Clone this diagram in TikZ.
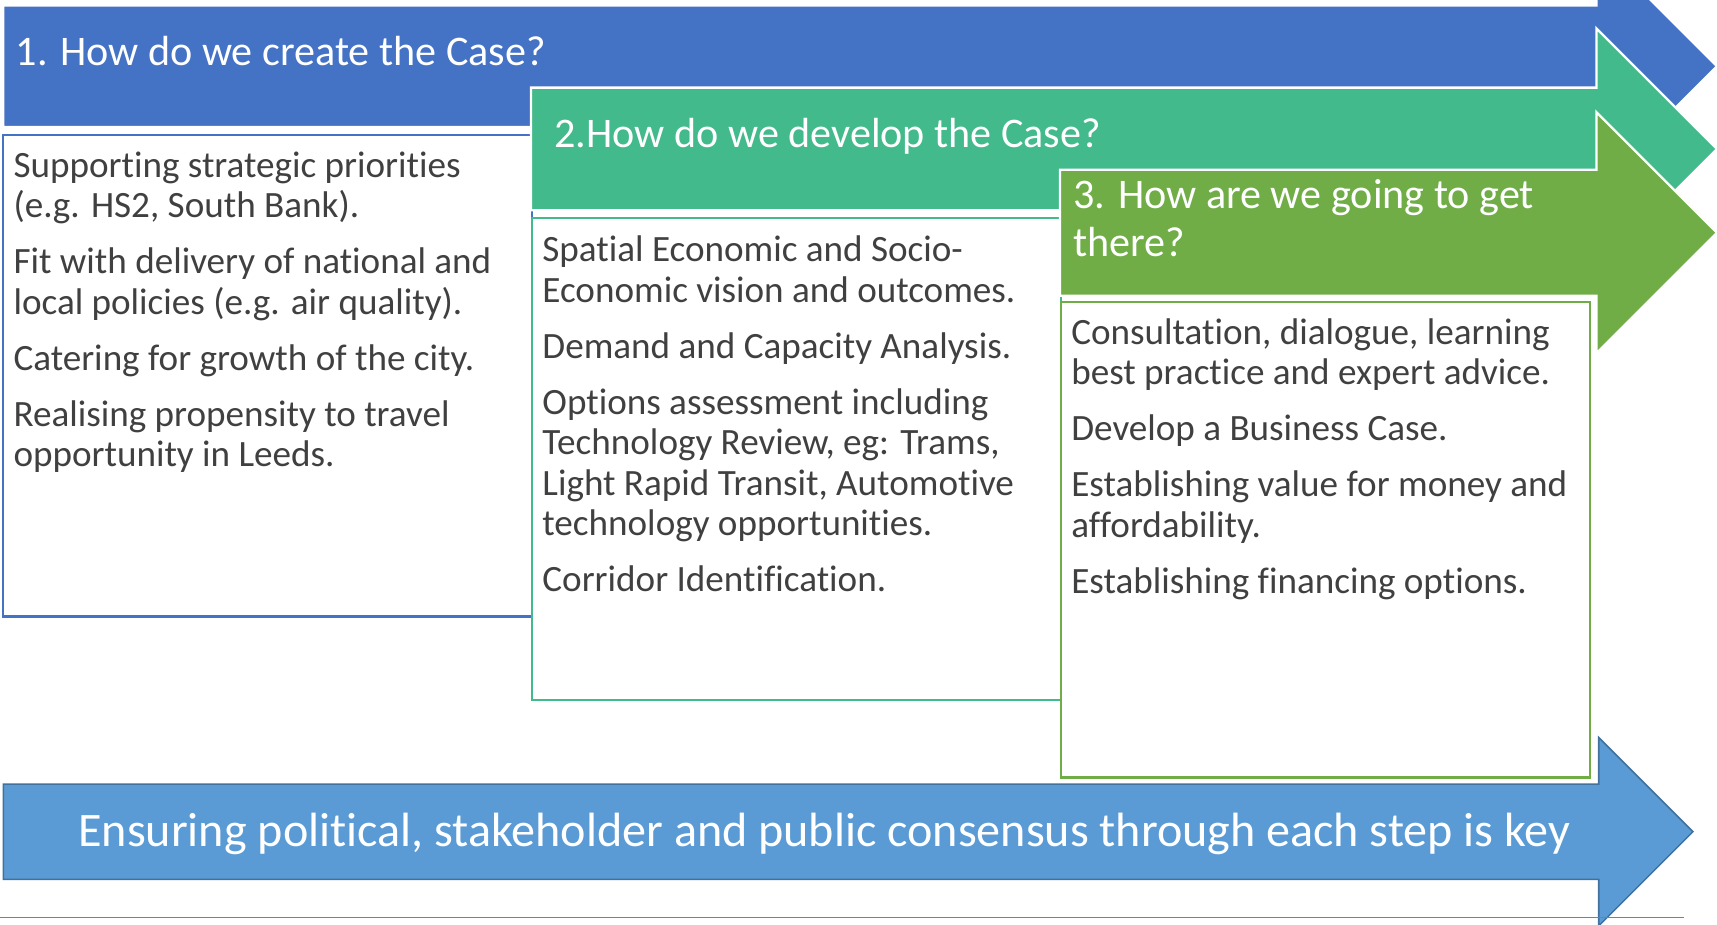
\documentclass[tikz,border=0pt]{standalone}
\usepackage{fontspec}
\setmainfont{Carlito}[Ligatures=NoCommon]
\usepackage{tikz}
\usetikzlibrary{positioning}
\definecolor{caseblue}{HTML}{4472C4}
\definecolor{caseteal}{HTML}{43BA8B}
\definecolor{casegreen}{HTML}{70AD47}
\definecolor{keyblue}{HTML}{5B9BD5}
\definecolor{keyedge}{HTML}{41719C}
\definecolor{bodygray}{HTML}{404040}
\def\steparrow[#1](#2:#3:#4:#5:#6)% Syntax: [draw options] (left:top:bottom:neck x:tip x)
    { \draw[#1] (#2,#3) -- (#5,#3) -- (#5,{(#3+#4)/2-(#6-#5)}) -- (#6,{(#3+#4)/2})
        -- (#5,{(#3+#4)/2+(#6-#5)}) -- (#5,#4) -- (#2,#4) -- cycle; }

\begin{document}
\begin{tikzpicture}[x=0.02cm,y=-0.02cm,
    stepbox/.style={draw=#1, line width=1.2pt, fill=white, minimum width=9.66cm,
      minimum height=8.8cm, anchor=north west, inner sep=0pt},
    headtext/.style={text=white, font=\fontsize{21.9}{24.5}\selectfont, align=left, inner sep=0pt},
    bodytext/.style={text=bodygray, font=\fontsize{19.3}{21.1}\selectfont, align=left, inner sep=0pt}]
   \useasboundingbox (0,0) rectangle (1568,844);

   % step 1
   \steparrow[fill=caseblue, draw=white, line width=1.2pt](3:5:116:1458:1568)
   \node[headtext, anchor=west] (h1) at (14,47) {1. How do we create the Case?};
   \node[stepbox=caseblue] (b1) at (2,122) {};
   \node[bodytext, below right=0.32cm and 0.2cm of b1.north west] (t1) {Supporting strategic priorities\\
     (e.g. HS2, South Bank).\\[8pt]
     Fit with delivery of national and\\
     local policies (e.g. air quality).\\[8pt]
     Catering for growth of the city.\\[8pt]
     Realising propensity to travel\\
     opportunity in Leeds.};

   % step 2
   \steparrow[fill=caseteal, draw=white, line width=1.2pt](485:80:192:1458:1568)
   \node[headtext, anchor=west] (h2) at (506,124) {2.How do we develop the Case?};
   \node[stepbox=caseteal] (b2) at (485,198) {};
   \node[bodytext, below right=0.34cm and 0.2cm of b2.north west] (t2) {Spatial Economic and Socio-\\
     Economic vision and outcomes.\\[8pt]
     Demand and Capacity Analysis.\\[8pt]
     Options assessment including\\
     Technology Review, eg: Trams,\\
     Light Rapid Transit, Automotive\\
     technology opportunities.\\[8pt]
     Corridor Identification.};

   % step 3
   \steparrow[fill=casegreen, draw=white, line width=1.2pt](968:155:270:1458:1568)
   \node[headtext, anchor=north west] (h3) at (980,164) {3. How are we going to get\\there?};
   \node[stepbox=casegreen, minimum height=8.68cm] (b3) at (968,275) {};
   \node[bodytext, below right=0.31cm and 0.2cm of b3.north west] (t3) {Consultation, dialogue, learning\\
     best practice and expert advice.\\[8pt]
     Develop a Business Case.\\[8pt]
     Establishing value for money and\\
     affordability.\\[8pt]
     Establishing financing options.};

   % consensus
   \steparrow[fill=keyblue, draw=keyedge, line width=0.8pt](3:716:803:1460:1546)
   \node[headtext, font=\fontsize{25}{28}\selectfont] (key) at (753,762)
     {Ensuring political, stakeholder and public consensus through each step is key};
   \coordinate (rulel) at (0,838);
   \coordinate (ruler) at (1538,838);
   \draw[gray, line width=0.8pt] (rulel) -- (ruler);
\end{tikzpicture}
\end{document}
